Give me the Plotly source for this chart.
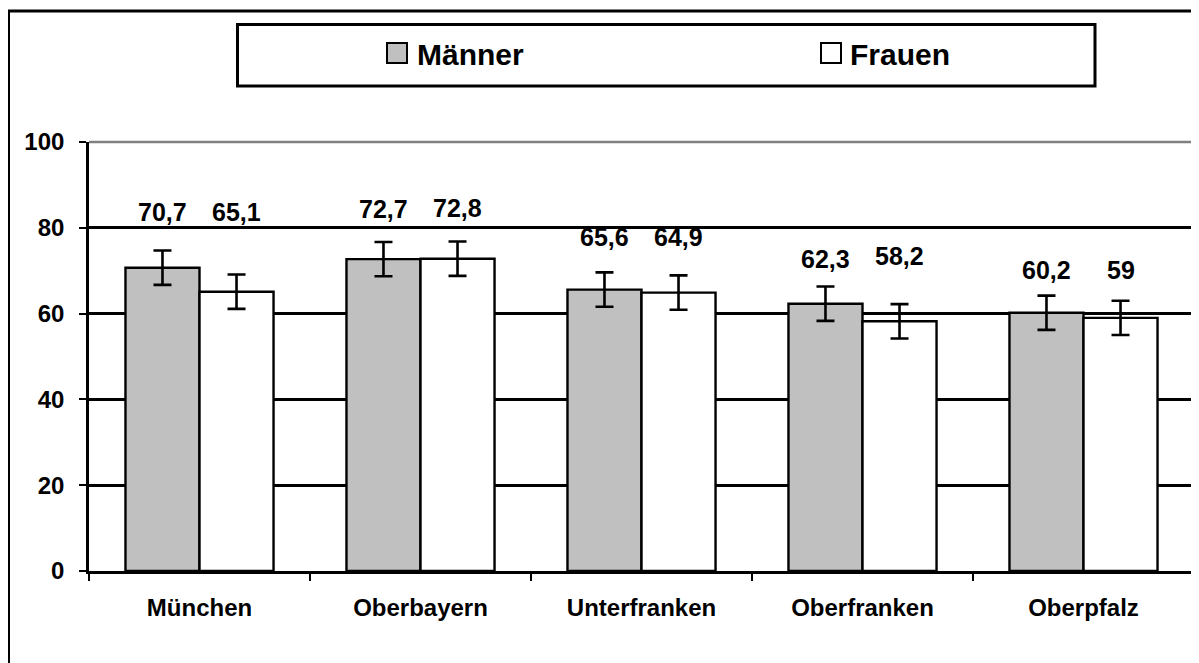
import plotly.graph_objects as go

# ---- data ----
regions = ["München", "Oberbayern", "Unterfranken", "Oberfranken", "Oberpfalz"]
maenner = [70.7, 72.7, 65.6, 62.3, 60.2]
frauen = [65.1, 72.8, 64.9, 58.2, 59.0]
maenner_err = [4.0, 4.0, 4.0, 4.0, 4.0]
frauen_err = [4.0, 4.0, 4.0, 4.0, 4.0]
maenner_labels = ["70,7", "72,7", "65,6", "62,3", "60,2"]
frauen_labels = ["65,1", "72,8", "64,9", "58,2", "59"]
y_ticks = [0, 20, 40, 60, 80, 100]

# label heights (data units) as placed in the original chart
maenner_label_level = [83.0, 83.7, 77.2, 72.0, 69.5]
frauen_label_level = [83.0, 83.9, 77.2, 72.7, 69.5]

# page has an 8px body margin; figure fills the rest of the window
OFF = 8
W, H = 1199 - OFF, 663 - OFF
L, T = 89 - OFF, 142 - OFF
R = W - (1194 - OFF)
B = H - (571 - OFF)
PW, PH = W - L - R, H - T - B
FONT = "Liberation Sans, Arial, sans-serif"


def px_x(x):  # page pixel -> paper
    return (x - OFF - L) / PW


def px_y(y):
    return 1 - (y - OFF - T) / PH


fig = go.Figure()
err_style = dict(type="data", visible=True, color="black", thickness=2.6, width=9)
fig.add_trace(go.Bar(
    name="Männer", x=regions, y=maenner,
    marker=dict(color="#C0C0C0", line=dict(color="black", width=2.4)),
    error_y=dict(array=maenner_err, **err_style),
))
fig.add_trace(go.Bar(
    name="Frauen", x=regions, y=frauen,
    marker=dict(color="white", line=dict(color="black", width=2.4)),
    error_y=dict(array=frauen_err, **err_style),
))

label_font = dict(family=FONT, size=25, color="black", weight="bold")
annotations = []
for i, r in enumerate(regions):
    annotations.append(dict(x=r, y=maenner_label_level[i], xref="x", yref="y",
                            text=maenner_labels[i], showarrow=False, xshift=-37, yshift=3,
                            font=label_font))
    annotations.append(dict(x=r, y=frauen_label_level[i], xref="x", yref="y",
                            text=frauen_labels[i], showarrow=False, xshift=37, yshift=3,
                            font=label_font))

# manual legend
legend_font = dict(family=FONT, size=30, color="black", weight="bold")
annotations.append(dict(x=px_x(415), y=px_y(54), xref="paper", yref="paper",
                        text="Männer", showarrow=False, xanchor="left", yanchor="middle",
                        font=legend_font))
annotations.append(dict(x=px_x(848), y=px_y(54), xref="paper", yref="paper",
                        text="Frauen", showarrow=False, xanchor="left", yanchor="middle",
                        font=legend_font))

shapes = [
    # outer chart border (left + top, extends beyond the page)
    dict(type="rect", xref="paper", yref="paper",
         x0=px_x(8.5), y0=px_y(720), x1=px_x(1260), y1=px_y(11),
         line=dict(color="black", width=3), fillcolor="rgba(0,0,0,0)", layer="above"),
    # legend box
    dict(type="rect", xref="paper", yref="paper",
         x0=px_x(237.5), y0=px_y(86), x1=px_x(1095), y1=px_y(24.5),
         line=dict(color="black", width=3), fillcolor="white"),
    # legend swatches
    dict(type="rect", xref="paper", yref="paper",
         x0=px_x(387), y0=px_y(63), x1=px_x(407), y1=px_y(43),
         line=dict(color="black", width=2), fillcolor="#C0C0C0"),
    dict(type="rect", xref="paper", yref="paper",
         x0=px_x(821), y0=px_y(63), x1=px_x(841), y1=px_y(43),
         line=dict(color="black", width=2), fillcolor="white"),
    # plot area gray border top + right
    dict(type="line", xref="paper", yref="paper", x0=0, y0=1, x1=1, y1=1,
         line=dict(color="#808080", width=2.5), layer="below"),
    dict(type="line", xref="paper", yref="paper", x0=1, y0=0, x1=1, y1=1,
         line=dict(color="#808080", width=2.5), layer="below"),
]

fig.update_layout(
    width=W, height=H,
    margin=dict(l=L, r=R, t=T, b=B, pad=0),
    paper_bgcolor="white", plot_bgcolor="white",
    barmode="group", bargap=0.33, bargroupgap=0,
    showlegend=False,
    annotations=annotations, shapes=shapes,
    font=dict(family=FONT, color="black"),
)
fig.update_xaxes(
    type="category", showline=True, linecolor="black", linewidth=2.6,
    ticks="outside", tickson="boundaries", ticklen=7, tickwidth=2.4, tickcolor="black",
    ticklabelstandoff=13,
    tickfont=dict(family=FONT, size=24, color="black", weight="bold"),
    showgrid=False, zeroline=False,
)
fig.update_yaxes(
    range=[0, 100], tickvals=y_ticks,
    showline=True, linecolor="black", linewidth=2.6,
    ticks="outside", ticklen=7, tickwidth=2.4, tickcolor="black",
    ticklabelstandoff=10,
    tickfont=dict(family=FONT, size=24, color="black", weight="bold"),
    showgrid=True, gridcolor="black", gridwidth=2.6, zeroline=False,
)

fig.write_html("out.html")
